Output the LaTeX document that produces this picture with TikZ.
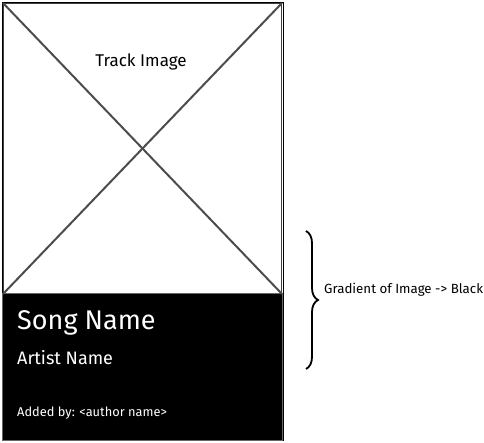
\documentclass[tikz,border=0pt]{standalone}
\usepackage{fontspec}
\setmainfont{Fira Sans}
\usetikzlibrary{decorations.pathreplacing}
\begin{document}
\begin{tikzpicture}[x=1pt,y=-1pt]
\useasboundingbox (0,0) rectangle (484,442);
\tikzstyle{label}=[inner sep=0pt,anchor=west]
% card
\node[style={draw=black,line width=1.5pt,minimum width=281pt,minimum height=438pt,anchor=north west,inner sep=0pt}] (card) at (1.5,1.5) {};
\node[style={draw=black!75,line width=1pt,minimum width=278pt,minimum height=290pt,anchor=north west,inner sep=0pt}] (img) at (3,3) {};
\node[style={fill=black,draw=black!60,line width=0.8pt,minimum width=280pt,minimum height=147pt,anchor=north west,inner sep=0pt}] (info) at (2,293) {};
\path[]
	(img.north west) [-,draw=black!70,line width=2pt] edge (img.south east)
    (img.north east) [-,draw=black!70,line width=2pt] edge (img.south west);
\node[fill=white,inner sep=1pt,font=\fontsize{17}{20}\selectfont] (title) at (141,62) {Track Image};
% texts on black
\node[style=label,text=white,font=\fontsize{27}{30}\selectfont] (song) at (17,323) {Song Name};
\node[style=label,text=white,font=\fontsize{18}{21}\selectfont] (artist) at (17,358) {Artist Name};
\node[style=label,text=white,font=\fontsize{12.8}{15}\selectfont] (added) at (17,413) {Added by: <author name>};
% note
\coordinate (btop) at (306,231);
\coordinate (bbot) at (306,369);
\draw[line width=1.8pt,decorate,decoration={brace,amplitude=12pt}] (btop) -- (bbot);
\node[style=label,font=\fontsize{13.3}{15}\selectfont] (note) at (324,290) {Gradient of Image -> Black};
\end{tikzpicture}
\end{document}
